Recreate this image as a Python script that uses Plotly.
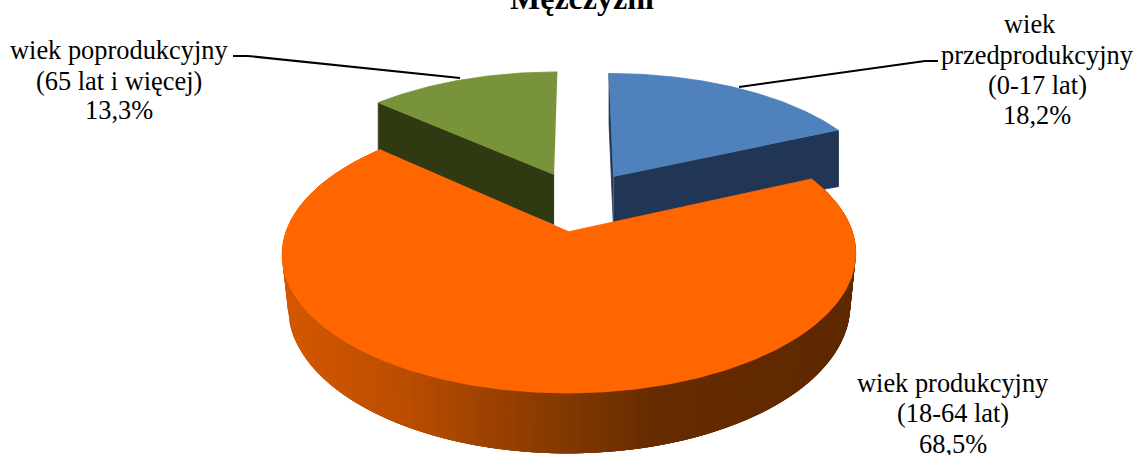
import numpy as np
import plotly.graph_objects as go

categories = ["wiek przedprodukcyjny", "wiek produkcyjny", "wiek poprodukcyjny"]
values = [18.2, 68.5, 13.3]
value_labels = ["18,2%", "68,5%", "13,3%"]
age_ranges = ["(0-17 lat)", "(18-64 lat)", "(65 lat i więcej)"]
title_text = "Mężczyźni"

W, H = 1139, 455
CX, CY = 579.5, 201
R, K, D, EXPLODE, DEPTH = 273, 126, 6.5, 0.237, 49
TOP = ["#4F81BD", "#FF6600", "#789339"]
WALL = ["#203654", "#FF6600", "#2F3A13"]
STOPS_X = [285, 400, 550, 650, 860]
STOPS_R = [212, 188, 136, 104, 94]
STOPS_G = [88, 78, 58, 44, 40]


def project(x, y, z=0.0):
    s = D / (D + y)
    return CX + R * x * s * (1 - 0.02 * z), CY - K * y * s + DEPTH * s * z


def project_back(x, y):
    s = D / (D + y)
    return CX + R * x * s, CY - K * y * s + 50 + 6 * max(x, 0)


def rim(t0, t1, ox, oy, z=0.0, n=120):
    t = np.linspace(t0, t1, n)
    return project(ox + np.sin(t), oy + np.cos(t), z)


fig = go.Figure()


def poly(xs, ys, color, lw=0.8):
    fig.add_trace(go.Scatter(x=list(xs), y=list(ys), mode="lines", fill="toself", fillcolor=color,
                             line=dict(color=color, width=lw), hoverinfo="skip", showlegend=False))


total = sum(values)
angles = np.cumsum([0] + values) / total * 2 * np.pi
slices = []
for i in range(len(values)):
    a0, a1 = angles[i], angles[i + 1]
    mid = (a0 + a1) / 2
    slices.append((a0, a1, EXPLODE * np.sin(mid), EXPLODE * np.cos(mid)))

# back slices: visible walls, then top
for i, wall_angles in ((0, slices[0][:2]), (2, slices[2][:1])):
    a0, a1, ox, oy = slices[i]
    ax, ay = project(ox, oy)
    bx, by = project_back(ox, oy)
    for a in wall_angles:
        ex, ey = project(ox + np.sin(a), oy + np.cos(a))
        fx, fy = project_back(ox + np.sin(a), oy + np.cos(a))
        poly([ax, ex, fx, bx], [ay, ey, fy, by], WALL[i])
for i in (0, 2):
    a0, a1, ox, oy = slices[i]
    ax, ay = project(ox, oy)
    rx, ry = rim(a0, a1, ox, oy)
    poly([ax, *rx], [ay, *ry], TOP[i])

# front slice: shaded side in overlapping strips, then top
a0, a1, ox, oy = slices[1]
edges = np.linspace(a0, a1, 201)
step = edges[1] - edges[0]
for t0 in edges[:-1]:
    t1 = min(t0 + 4 * step, a1)
    xt, yt = rim(t0, t1, ox, oy, 0, 6)
    xb, yb = rim(t1, t0, ox, oy, 1, 6)
    mx = float(rim(t0, t0 + step, ox, oy, 0, 2)[0].mean())
    c = "rgb(%d,%d,0)" % (np.interp(mx, STOPS_X, STOPS_R), np.interp(mx, STOPS_X, STOPS_G))
    poly([*xt, *xb], [*yt, *yb], c, 0)
ax, ay = project(ox, oy)
rx, ry = rim(a0, a1, ox, oy, 0, 300)
poly([ax, *rx], [ay, *ry], TOP[1])

FONT = dict(family="Liberation Serif, Times New Roman, serif", color="black", size=26.4)


def label(x, y, text):
    fig.add_annotation(x=x / W, y=1 - y / H, xref="paper", yref="paper", text=text, showarrow=False,
                       xanchor="center", yanchor="middle", font=FONT, borderpad=0)


label(1030, 24, "wiek")
label(1037, 55, "przedprodukcyjny")
label(1037, 85, age_ranges[0])
label(1037, 115, value_labels[0])
label(119, 50, categories[2])
label(119, 81, age_ranges[2])
label(119, 110, value_labels[2])
label(953, 383, categories[1])
label(953, 413, age_ranges[1])
label(953, 444, value_labels[1])

fig.add_annotation(x=581.5 / W, y=1 + 2 / H, xref="paper", yref="paper", text="<b>" + title_text + "</b>",
                   showarrow=False, xanchor="center", yanchor="middle",
                   font=dict(family=FONT["family"], color="black", size=32))

for path in ("M 233 56 L 248 56 L 460 78", "M 739 87 L 925 61 L 938 61"):
    fig.add_shape(type="path", path=path, xref="x", yref="y", line=dict(color="black", width=2), layer="above")

fig.update_layout(
    width=W, height=H, margin=dict(l=0, r=0, t=0, b=0), autosize=False,
    paper_bgcolor="white", plot_bgcolor="white", showlegend=False,
    xaxis=dict(range=[0, W], visible=False, fixedrange=True),
    yaxis=dict(range=[H, 0], visible=False, fixedrange=True),
)
fig.write_html("out.html", config=dict(displayModeBar=False),
               post_script="document.body.style.margin='0';document.body.style.overflow='hidden';")
